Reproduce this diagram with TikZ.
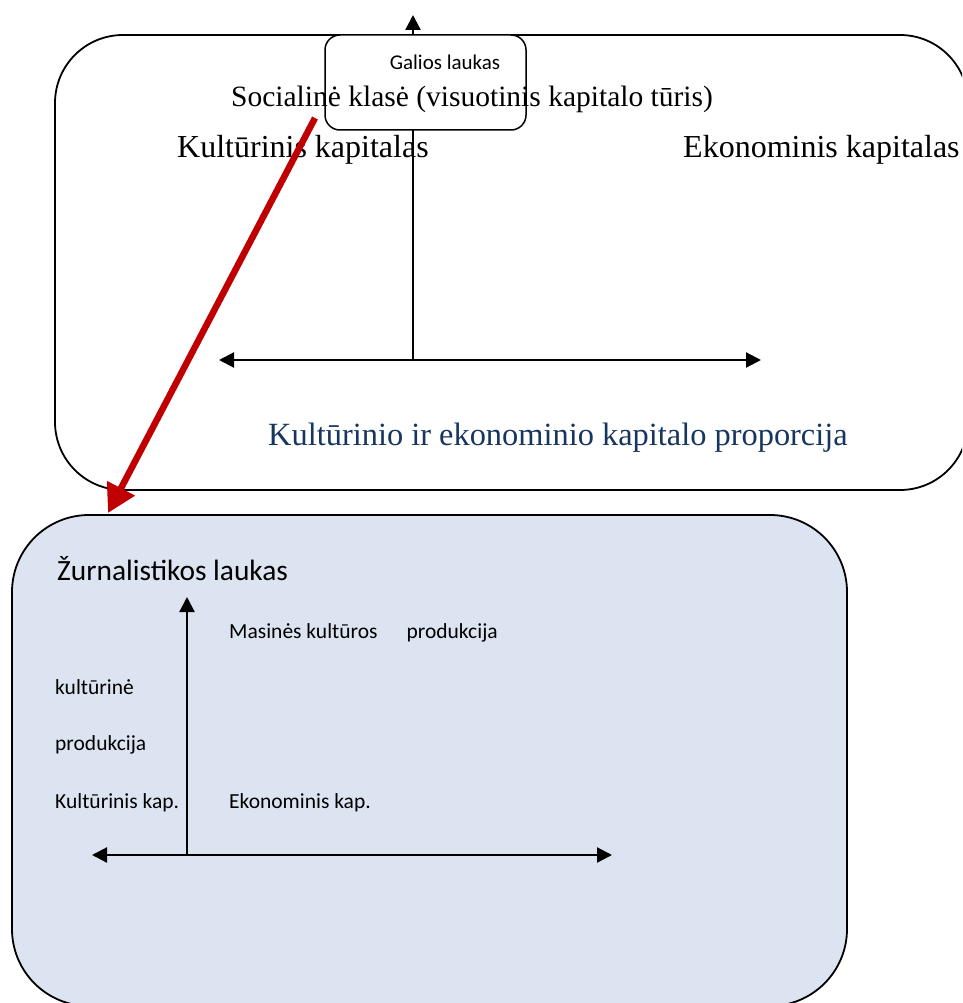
\documentclass[tikz,border=0pt]{standalone}
\usepackage{fontspec}
\setmainfont{Liberation Serif}
\newfontfamily\calib{Carlito}
\usetikzlibrary{arrows.meta}
\definecolor{boxblue}{HTML}{DBE4F0}
\definecolor{navytext}{HTML}{17365D}
\definecolor{darkred}{HTML}{C00000}
\begin{document}
\begin{tikzpicture}[x=1pt,y=-1pt,
  axis/.style={line width=2.2pt,{Triangle[length=15pt,width=15pt]}-{Triangle[length=15pt,width=15pt]}},
  upaxis/.style={line width=2.2pt,-{Triangle[length=15pt,width=15pt]}},
  serifbig/.style={inner sep=0pt,font=\fontsize{32}{38}\selectfont},
  sanslbl/.style={inner sep=0pt,anchor=west,font=\calib\fontsize{21.5}{25}\selectfont},
  field/.style={draw,line width=1.8pt}]
\useasboundingbox (0,0) rectangle (962,1003);
\clip (0,0) rectangle (962,1003);
% top field
\draw[field,rounded corners=68pt] (55,35) rectangle (968,490);
% bottom field
\draw[field,fill=boxblue,rounded corners=77pt] (12,515) rectangle (847,1006);
% top axes
\coordinate (tv0) at (413,360);
\coordinate (tvtop) at (413,15);
\coordinate (thl) at (219,360);
\coordinate (thr) at (761,360);
\draw[upaxis] (tv0) -- (tvtop);
\draw[axis] (thl) -- (thr);
% power field box
\node[draw,line width=1.5pt,fill=white,rounded corners=15pt,minimum width=201pt,minimum height=95pt,inner sep=0pt] (galios) at (425.5,82.5) {};
\node[inner sep=0pt,font=\calib\fontsize{21}{25}\selectfont] (galiostxt) at (445,62) {Galios laukas};
\node[inner sep=0pt,font=\fontsize{29.5}{35}\selectfont,anchor=base] (soc) at (472,107) {Socialinė klasė (visuotinis kapitalo tūris)};
\node[serifbig,anchor=base west] (kk) at (177,158) {Kultūrinis kapitalas};
\node[serifbig,anchor=base west] (ek) at (683,158) {Ekonominis kapitalas};
\node[inner sep=0pt,font=\fontsize{32.4}{38}\selectfont,anchor=base west,text=navytext] (prop) at (268,445) {Kultūrinio ir ekonominio kapitalo proporcija};
% bottom axes
\coordinate (bv0) at (187,855);
\coordinate (bvtop) at (187,597);
\coordinate (bhl) at (92,855);
\coordinate (bhr) at (612,855);
\draw[upaxis] (bv0) -- (bvtop);
\draw[axis] (bhl) -- (bhr);
\node[inner sep=0pt,anchor=base west,font=\calib\fontsize{29.4}{34}\selectfont] (zurn) at (57,580) {Žurnalistikos laukas};
\node[sanslbl] (mas) at (229,633) {Masinės kultūros\hspace{1.35em}produkcija};
\node[sanslbl] (kult) at (55,687) {kultūrinė};
\node[sanslbl] (prod) at (55,745) {produkcija};
\node[sanslbl] (kkap) at (55,803) {Kultūrinis kap.};
\node[sanslbl] (ekap) at (229,803) {Ekonominis kap.};
% red arrow
\coordinate (rs) at (315,118);
\coordinate (re) at (108,513);
\draw[darkred,line width=6.5pt,-{Triangle[length=28pt,width=30pt]}] (rs) -- (re);
\end{tikzpicture}
\end{document}
